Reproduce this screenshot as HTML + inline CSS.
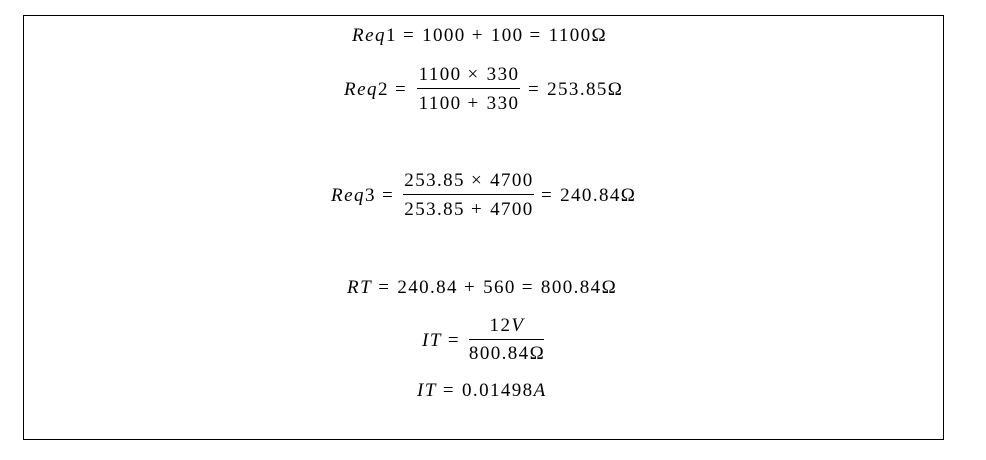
<!DOCTYPE html>
<html><head><meta charset="utf-8"><style>
body{margin:0;width:986px;height:460px;background:#fff;position:relative;overflow:hidden;font-family:"Liberation Serif","DejaVu Serif",serif;font-size:19px;color:#000;letter-spacing:1.4px}
.box{position:absolute;left:23px;top:15px;width:919px;height:423px;border:1px solid #000}
.t{position:absolute;white-space:nowrap;line-height:20px;transform:translateY(-50%)}
.c{position:absolute;white-space:nowrap;line-height:20px;transform:translate(-50%,-50%);text-align:center}
.ln{position:absolute;height:1px;background:#000}
.o{margin:0 7px 0 6px}
i{font-style:italic;letter-spacing:1.5px}
</style></head><body>
<div class="box"></div>
<div class="t" style="left:352px;top:36px"><i>Req</i>1<span class="o">=</span>1000<span class="o">+</span>100<span class="o">=</span>1100Ω</div>

<div class="t" style="left:344px;top:90px"><i>Req</i>2<span class="o">=</span></div>
<div class="c" style="left:469px;top:75px">1100<span class="o">×</span>330</div>
<div class="ln" style="left:417px;top:88px;width:103px"></div>
<div class="c" style="left:469px;top:104px">1100<span class="o">+</span>330</div>
<div class="t" style="left:522px;top:90px"><span class="o">=</span>253.85Ω</div>

<div class="t" style="left:331px;top:196px"><i>Req</i>3<span class="o">=</span></div>
<div class="c" style="left:469px;top:181px">253.85<span class="o">×</span>4700</div>
<div class="ln" style="left:403px;top:194px;width:131px"></div>
<div class="c" style="left:469px;top:210px">253.85<span class="o">+</span>4700</div>
<div class="t" style="left:535px;top:196px"><span class="o">=</span>240.84Ω</div>

<div class="t" style="left:347px;top:288px"><i>RT</i><span class="o">=</span>240.84<span class="o">+</span>560<span class="o">=</span>800.84Ω</div>

<div class="t" style="left:422px;top:341px"><i>IT</i><span class="o">=</span></div>
<div class="c" style="left:507px;top:326px">12<i>V</i></div>
<div class="ln" style="left:469px;top:339px;width:75px"></div>
<div class="c" style="left:507px;top:354px">800.84Ω</div>

<div class="t" style="left:417px;top:391px"><i>IT</i><span class="o">=</span>0.01498<i>A</i></div>
</body></html>
